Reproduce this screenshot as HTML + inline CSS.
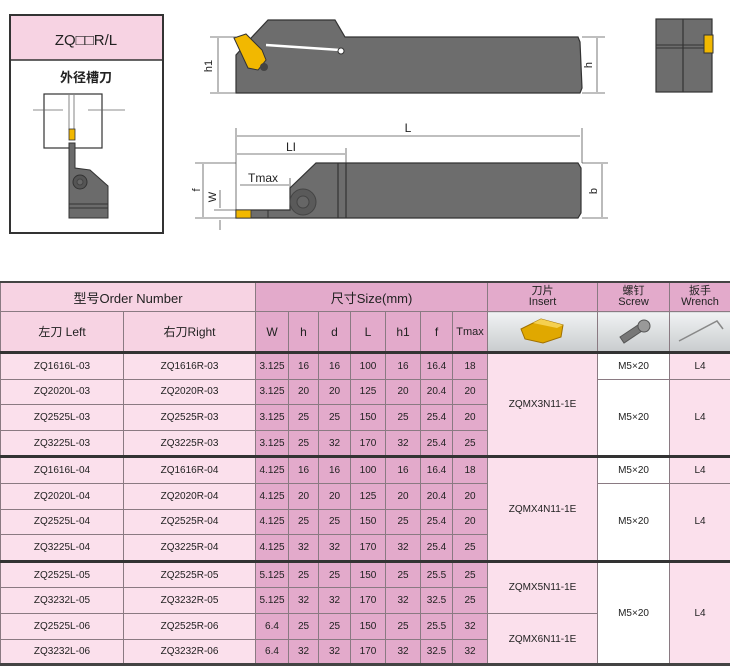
<!DOCTYPE html>
<html><head><meta charset="utf-8"><style>
body{margin:0;width:730px;height:666px;background:#fff;position:relative;overflow:hidden;font-family:"Liberation Sans","Noto Sans CJK SC",sans-serif}
svg{position:absolute;left:0;top:0}
table{position:absolute;left:0;top:281px;width:730px;border-collapse:collapse;table-layout:fixed}
td{border:1px solid #8a7a82;text-align:center;padding:0;font-size:10px;color:#222;height:24.6px;background:#fbe0ec}
td.s{background:#e3aacb}
td.w{background:#fff}
tr.h1 td{height:28px;font-size:13px;background:#f7d3e3;border-top:2px solid #444}
tr.h1 td.s,tr.h1 td.p{background:#e3aacb}
tr.h1 td.p{font-size:11px;line-height:11px}
tr.h2 td{height:39px;font-size:12px;background:#f7d3e3}
tr.h2 td.s{background:#e3aacb}
tr.h2 td.g{background:linear-gradient(#f0f2f3,#c9ccce)}
tr.t td{border-top:3px solid #333}
#bl{position:absolute;left:0;top:663px;width:730px;height:3px;background:#444}
</style></head><body>
<svg width="730" height="281" viewBox="0 0 730 281">
<rect x="10" y="15" width="153" height="218" fill="#fff" stroke="#333" stroke-width="2"/>
<rect x="11" y="16" width="151" height="44" fill="#f7d3e3"/>
<line x1="10" y1="60" x2="163" y2="60" stroke="#333" stroke-width="1.5"/>
<text x="86" y="45" font-size="15" text-anchor="middle" font-family="Liberation Sans,Noto Sans CJK SC,sans-serif" fill="#222">ZQ□□R/L</text>
<text x="86" y="82" font-size="13" font-weight="bold" text-anchor="middle" font-family="Liberation Sans,Noto Sans CJK SC,sans-serif" fill="#222">外径槽刀</text>
<rect x="44" y="94" width="58" height="54" fill="#fff" stroke="#333" stroke-width="1.2"/>
<line x1="33" y1="110" x2="63" y2="110" stroke="#666" stroke-width="0.8"/><line x1="88" y1="110" x2="125" y2="110" stroke="#666" stroke-width="0.8"/>
<line x1="69" y1="95" x2="69" y2="130" stroke="#666" stroke-width="0.8"/><line x1="74" y1="95" x2="74" y2="130" stroke="#666" stroke-width="0.8"/>
<rect x="69" y="129" width="6" height="11" fill="#f2b800" stroke="#333" stroke-width="0.8"/>
<polygon points="69,143 75,143 75,168 90,170 108,186 108,218 69,218" fill="#6b6b6b" stroke="#333"/>
<circle cx="80" cy="182" r="7" fill="#555" stroke="#333"/><circle cx="80" cy="182" r="3" fill="#666" stroke="#444"/>
<line x1="69" y1="204" x2="108" y2="204" stroke="#333"/><line x1="69" y1="208" x2="108" y2="208" stroke="#333"/>
<polygon points="236,55 236,93 580,93 582,88 580,42 578,37 345,37 335,20 268,20 252,37" fill="#6d6d6d" stroke="#333" stroke-width="1.2"/>
<path d="M266,45 L340,50" stroke="#fff" stroke-width="2.5" fill="none"/><circle cx="341" cy="51" r="3" fill="#fff" stroke="#333"/>
<polygon points="234,38 246,34 262,50 266,60 258,70 248,68" fill="#f2b800" stroke="#333"/>
<circle cx="264" cy="67" r="4" fill="#444"/>
<g stroke="#555" stroke-width="0.8" fill="none">
<line x1="210" y1="37" x2="236" y2="37"/><line x1="210" y1="93" x2="236" y2="93"/><line x1="218" y1="38" x2="218" y2="92"/>
<line x1="582" y1="37" x2="605" y2="37"/><line x1="582" y1="93" x2="605" y2="93"/><line x1="597" y1="38" x2="597" y2="92"/>
<line x1="236" y1="128" x2="236" y2="218"/><line x1="582" y1="128" x2="582" y2="163"/>
<line x1="237" y1="136" x2="580" y2="136"/><line x1="237" y1="154" x2="345" y2="154"/><line x1="346" y1="148" x2="346" y2="163"/>
<line x1="240" y1="185" x2="289" y2="185"/><line x1="290" y1="178" x2="290" y2="188"/>
<line x1="195" y1="163" x2="236" y2="163"/><line x1="195" y1="218" x2="236" y2="218"/><line x1="203" y1="164" x2="203" y2="217"/>
<line x1="214" y1="210" x2="236" y2="210"/><line x1="220" y1="190" x2="220" y2="208"/><line x1="220" y1="220" x2="220" y2="230"/>
<line x1="582" y1="163" x2="608" y2="163"/><line x1="582" y1="218" x2="608" y2="218"/><line x1="602" y1="164" x2="602" y2="217"/>
</g>
<text x="212" y="66" font-size="11" transform="rotate(-90 212 66)" text-anchor="middle" fill="#222">h1</text>
<text x="592" y="65" font-size="11" transform="rotate(-90 592 65)" text-anchor="middle" fill="#222">h</text>
<text x="408" y="132" font-size="12" text-anchor="middle" fill="#222">L</text>
<text x="291" y="151" font-size="12" text-anchor="middle" fill="#222">LI</text>
<text x="263" y="182" font-size="12" text-anchor="middle" fill="#222">Tmax</text>
<text x="200" y="190" font-size="11" transform="rotate(-90 200 190)" text-anchor="middle" fill="#222">f</text>
<text x="216" y="197" font-size="11" transform="rotate(-90 216 197)" text-anchor="middle" fill="#222">W</text>
<text x="597" y="191" font-size="11" transform="rotate(-90 597 191)" text-anchor="middle" fill="#222">b</text>
<rect x="656" y="19" width="56" height="73" fill="#6d6d6d" stroke="#333" stroke-width="1.2"/>
<line x1="683" y1="19" x2="683" y2="92" stroke="#333" stroke-width="1.2"/>
<line x1="656" y1="45" x2="705" y2="45" stroke="#333"/><line x1="656" y1="48" x2="705" y2="48" stroke="#333"/>
<rect x="704" y="35" width="9" height="18" fill="#f2b800" stroke="#333"/>
<polygon points="236,210 290,210 290,188 316,163 578,163 581,168 581,213 578,218 236,218" fill="#6d6d6d" stroke="#333" stroke-width="1.2"/>
<rect x="236" y="210" width="15" height="8" fill="#f2b800" stroke="#333" stroke-width="0.8"/>
<line x1="268" y1="210" x2="268" y2="218" stroke="#333"/>
<line x1="338" y1="163" x2="338" y2="218" stroke="#333" stroke-width="1.2"/><line x1="346" y1="163" x2="346" y2="218" stroke="#333" stroke-width="1.2"/>
<circle cx="303" cy="202" r="13" fill="#5a5a5a" stroke="#444"/><circle cx="303" cy="202" r="6" fill="#666" stroke="#444"/>
</svg>
<table>
<colgroup><col style="width:123px"><col style="width:132px"><col style="width:33px"><col style="width:30px"><col style="width:32px"><col style="width:35px"><col style="width:35px"><col style="width:32px"><col style="width:35px"><col style="width:110px"><col style="width:72px"><col style="width:61px"></colgroup>
<tr class="h1"><td colspan="2">型号Order Number</td><td class="s" colspan="7">尺寸Size(mm)</td><td class="p">刀片<br>Insert</td><td class="p">螺钉<br>Screw</td><td class="p">扳手<br>Wrench</td></tr>
<tr class="h2"><td>左刀 Left</td><td>右刀Right</td><td class="s">W</td><td class="s">h</td><td class="s">d</td><td class="s">L</td><td class="s">h1</td><td class="s">f</td><td class="s" style="font-size:11px">Tmax</td>
<td class="g"><svg width="60" height="30" style="position:static"><polygon points="8,14 28,4 50,10 48,22 30,28 12,24" fill="#e0a800" stroke="#a07000"/><polygon points="20,8 28,4 50,10 44,13" fill="#f5d050"/></svg></td>
<td class="g"><svg width="40" height="30" style="position:static"><polygon points="6,22 24,10 28,16 10,28" fill="#777" stroke="#555"/><circle cx="30" cy="11" r="6" fill="#999" stroke="#555"/></svg></td>
<td class="g"><svg width="50" height="30" style="position:static"><path d="M4,26 L42,6 L48,14" stroke="#888" stroke-width="1.5" fill="none"/></svg></td></tr>
<tr class="t"><td>ZQ1616L-03</td><td>ZQ1616R-03</td><td class="s">3.125</td><td class="s">16</td><td class="s">16</td><td class="s">100</td><td class="s">16</td><td class="s">16.4</td><td class="s">18</td><td rowspan="4">ZQMX3N11-1E</td><td class="w">M5×20</td><td>L4</td></tr>
<tr><td>ZQ2020L-03</td><td>ZQ2020R-03</td><td class="s">3.125</td><td class="s">20</td><td class="s">20</td><td class="s">125</td><td class="s">20</td><td class="s">20.4</td><td class="s">20</td><td class="w" rowspan="3">M5×20</td><td rowspan="3">L4</td></tr>
<tr><td>ZQ2525L-03</td><td>ZQ2525R-03</td><td class="s">3.125</td><td class="s">25</td><td class="s">25</td><td class="s">150</td><td class="s">25</td><td class="s">25.4</td><td class="s">20</td></tr>
<tr><td>ZQ3225L-03</td><td>ZQ3225R-03</td><td class="s">3.125</td><td class="s">25</td><td class="s">32</td><td class="s">170</td><td class="s">32</td><td class="s">25.4</td><td class="s">25</td></tr>
<tr class="t"><td>ZQ1616L-04</td><td>ZQ1616R-04</td><td class="s">4.125</td><td class="s">16</td><td class="s">16</td><td class="s">100</td><td class="s">16</td><td class="s">16.4</td><td class="s">18</td><td rowspan="4">ZQMX4N11-1E</td><td class="w">M5×20</td><td>L4</td></tr>
<tr><td>ZQ2020L-04</td><td>ZQ2020R-04</td><td class="s">4.125</td><td class="s">20</td><td class="s">20</td><td class="s">125</td><td class="s">20</td><td class="s">20.4</td><td class="s">20</td><td class="w" rowspan="3">M5×20</td><td rowspan="3">L4</td></tr>
<tr><td>ZQ2525L-04</td><td>ZQ2525R-04</td><td class="s">4.125</td><td class="s">25</td><td class="s">25</td><td class="s">150</td><td class="s">25</td><td class="s">25.4</td><td class="s">20</td></tr>
<tr><td>ZQ3225L-04</td><td>ZQ3225R-04</td><td class="s">4.125</td><td class="s">32</td><td class="s">32</td><td class="s">170</td><td class="s">32</td><td class="s">25.4</td><td class="s">25</td></tr>
<tr class="t"><td>ZQ2525L-05</td><td>ZQ2525R-05</td><td class="s">5.125</td><td class="s">25</td><td class="s">25</td><td class="s">150</td><td class="s">25</td><td class="s">25.5</td><td class="s">25</td><td rowspan="2">ZQMX5N11-1E</td><td class="w" rowspan="4">M5×20</td><td rowspan="4">L4</td></tr>
<tr><td>ZQ3232L-05</td><td>ZQ3232R-05</td><td class="s">5.125</td><td class="s">32</td><td class="s">32</td><td class="s">170</td><td class="s">32</td><td class="s">32.5</td><td class="s">25</td></tr>
<tr><td>ZQ2525L-06</td><td>ZQ2525R-06</td><td class="s">6.4</td><td class="s">25</td><td class="s">25</td><td class="s">150</td><td class="s">25</td><td class="s">25.5</td><td class="s">32</td><td rowspan="2">ZQMX6N11-1E</td></tr>
<tr><td>ZQ3232L-06</td><td>ZQ3232R-06</td><td class="s">6.4</td><td class="s">32</td><td class="s">32</td><td class="s">170</td><td class="s">32</td><td class="s">32.5</td><td class="s">32</td></tr>
</table>
<div id="bl"></div>
</body></html>
